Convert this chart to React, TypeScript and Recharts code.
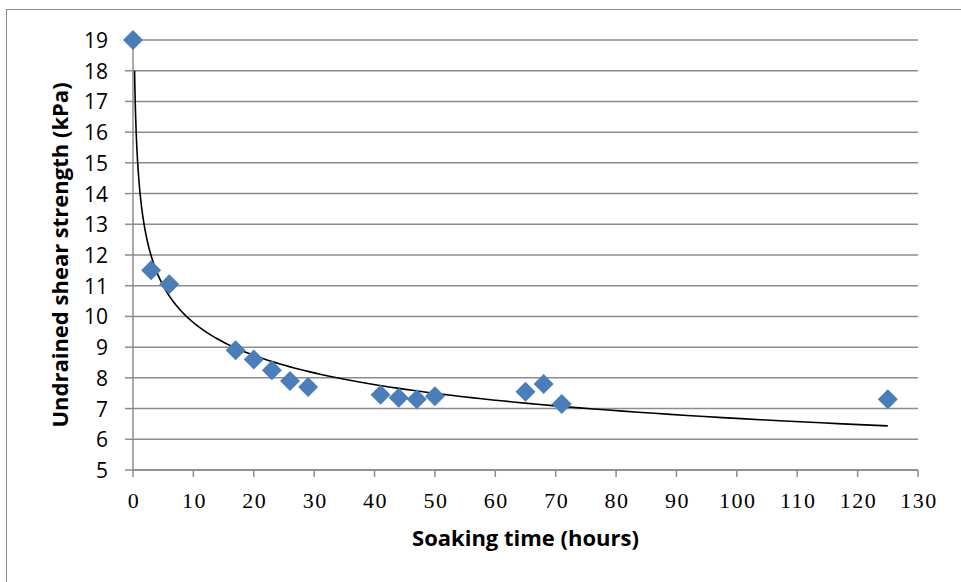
import { ScatterChart, Scatter, XAxis, YAxis, CartesianGrid, Label } from 'recharts';

// measured soaking times (hours) and undrained shear strength (kPa)
const soakHours = [0, 3, 6, 17, 20, 23, 26, 29, 41, 44, 47, 50, 65, 68, 71, 125];
const strengthKpa = [19, 11.5, 11.05, 8.9, 8.6, 8.25, 7.9, 7.7, 7.45, 7.35, 7.3, 7.4, 7.55, 7.8, 7.15, 7.3];

const xTicks = [0, 10, 20, 30, 40, 50, 60, 70, 80, 90, 100, 110, 120, 130];
const yTicks = [5, 6, 7, 8, 9, 10, 11, 12, 13, 14, 15, 16, 17, 18, 19];

// power trendline y = c * x^k
const TREND_C = 14.38;
const TREND_K = -0.1665;
const TREND_START = 0.26;
const TREND_END = 125;

const points = soakHours.map((x, i) => ({ x, y: strengthKpa[i] }));

const trend: { x: number; y: number }[] = [];
for (let i = 0; i <= 200; i++) {
  const x = TREND_START * Math.pow(TREND_END / TREND_START, i / 200);
  trend.push({ x, y: TREND_C * Math.pow(x, TREND_K) });
}

const BLUE = '#4a7ebb';
const GRID = '#8c8c8c';

const Diamond = (props: any) => {
  const { cx, cy } = props;
  const r = 10;
  return <path d={`M${cx},${cy - r}L${cx + r},${cy}L${cx},${cy + r}L${cx - r},${cy}Z`} fill={BLUE} />;
};

const XTick = ({ x, y, payload }: any) => (
  <text x={x + 1} y={y} dy={14} textAnchor="middle" fontFamily="Liberation Serif" fontSize={22} letterSpacing={1.5} fill="#000">
    {payload.value}
  </text>
);

const YTick = ({ x, y, payload }: any) => (
  <text x={x} y={y} textAnchor="end" dominantBaseline="central" fontFamily="Open Sans" fontSize={21} fill="#000">
    {payload.value}
  </text>
);

export default function App() {
  return (
    <div style={{ position: 'absolute', left: 0, top: 0, width: 961, height: 582, background: '#fff', overflow: 'hidden' }}>
      <div
        style={{
          position: 'absolute',
          left: 6,
          top: 9,
          width: 970,
          height: 600,
          borderLeft: `1.5px solid ${GRID}`,
          borderTop: `1.5px solid ${GRID}`,
        }}
      />
      <ScatterChart width={961} height={582} margin={{ top: 40, right: 43, left: 0, bottom: 0 }}>
        <CartesianGrid vertical={false} stroke={GRID} strokeWidth={1.5} />
        <XAxis
          type="number"
          dataKey="x"
          domain={[0, 130]}
          ticks={xTicks}
          interval={0}
          height={112}
          stroke={GRID}
          strokeWidth={1.5}
          tickSize={7}
          tickMargin={17}
          tick={XTick}
        >
          <Label
            content={({ viewBox }: any) => (
              <text
                x={viewBox.x + viewBox.width / 2}
                y={viewBox.y + 67}
                textAnchor="middle"
                dominantBaseline="central"
                fontFamily="Open Sans"
                fontWeight="bold"
                fontSize={22}
                fill="#000"
              >
                Soaking time (hours)
              </text>
            )}
          />
        </XAxis>
        <YAxis
          type="number"
          dataKey="y"
          domain={[5, 19]}
          ticks={yTicks}
          interval={0}
          width={133}
          stroke={GRID}
          strokeWidth={1.5}
          tickSize={8}
          tickMargin={17}
          tick={YTick}
        >
          <Label
            content={({ viewBox }: any) => {
              const cx = viewBox.x + 59;
              const cy = viewBox.y + viewBox.height / 2;
              return (
                <text
                  x={cx}
                  y={cy}
                  transform={`rotate(-90 ${cx} ${cy})`}
                  textAnchor="middle"
                  dominantBaseline="central"
                  fontFamily="Open Sans"
                  fontWeight="bold"
                  fontSize={22}
                  fill="#000"
                >
                  Undrained shear strength (kPa)
                </text>
              );
            }}
          />
        </YAxis>
        <Scatter
          data={trend}
          line={{ stroke: '#000', strokeWidth: 1.6 }}
          lineType="joint"
          shape={() => null}
          isAnimationActive={false}
        />
        <Scatter data={points} shape={Diamond} isAnimationActive={false} />
      </ScatterChart>
    </div>
  );
}
